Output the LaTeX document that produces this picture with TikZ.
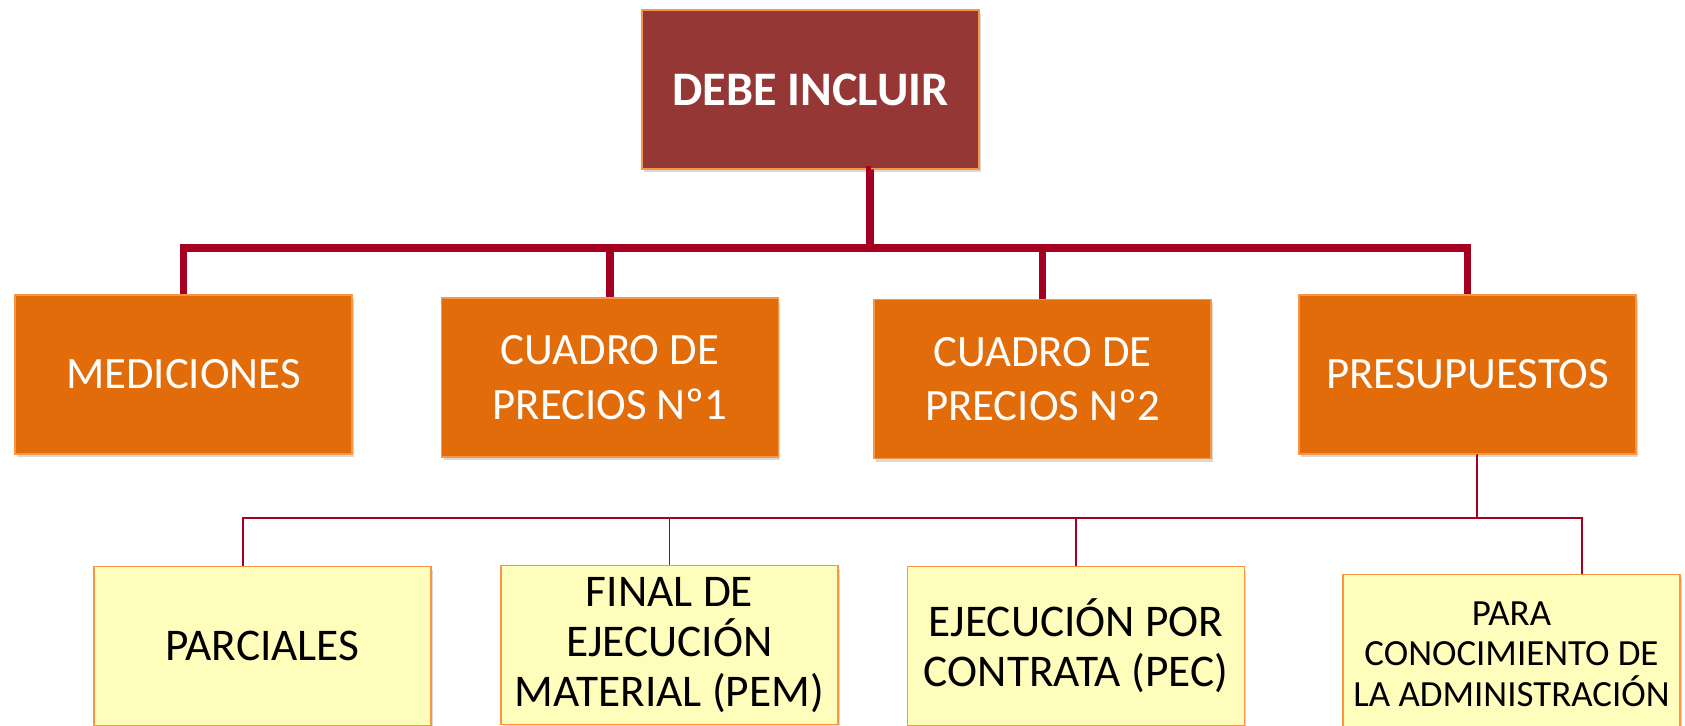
\documentclass[tikz,border=0pt]{standalone}
\usepackage{fontspec}
\setmainfont{Carlito}
\usetikzlibrary{graphs,shadows}
\definecolor{rootred}{HTML}{953735}
\definecolor{boxorange}{HTML}{E36C0A}
\definecolor{rimorange}{HTML}{F79646}
\definecolor{paleyellow}{HTML}{FFFDBB}
\definecolor{linkred}{HTML}{A50021}
\tikzset{
  box/.style={rectangle,draw=rimorange,line width=0.8pt,inner sep=0pt,
    minimum width=6.74cm,minimum height=3.18cm,align=center,
    drop shadow={opacity=0.3,shadow xshift=0.04cm,shadow yshift=-0.07cm}},
  rootbox/.style={box,fill=rootred,text=white,font=\fontsize{27.4}{32}\selectfont\bfseries},
  mainbox/.style={box,fill=boxorange,text=white,font=\fontsize{25.5}{31}\selectfont},
  subbox/.style={box,fill=paleyellow,text=black,font=\fontsize{25.8}{28.5}\selectfont}
}
\begin{document}
\begin{tikzpicture}[x=0.02cm,y=-0.02cm,new set=import nodes]
\useasboundingbox (0,0) rectangle (1685,725);
\clip (0,0) rectangle (1685,725);
\begin{scope}[nodes={set=import nodes}]
\node [rootbox] (top) at (810.5,89.5) {DEBE INCLUIR};
\node [mainbox] (med) at (183.5,374.5) {MEDICIONES};
\node [mainbox] (cp1) at (610,377.5) {CUADRO DE\\PRECIOS Nº1};
\node [mainbox] (cp2) at (1042.5,379) {CUADRO DE\\PRECIOS Nº2};
\node [mainbox] (pres) at (1467.5,374.5) {PRESUPUESTOS};
\node [subbox] (parc) at (262.5,646) {PARCIALES};
\node [subbox] (pem) at (669.5,645) {FINAL DE\\EJECUCIÓN\\MATERIAL (PEM)};
\node [subbox] (pec) at (1076,646) {EJECUCIÓN POR\\CONTRATA (PEC)};
\node [subbox,font=\fontsize{21}{23}\selectfont] (adm) at (1511.5,654) {PARA\\CONOCIMIENTO DE\\LA ADMINISTRACIÓN};
\coordinate [set=import nodes] (ts) at ([xshift=1.2cm]top.south);
\coordinate [set=import nodes] (bar) at (870,248);
\coordinate [set=import nodes] (ps) at ([xshift=0.19cm]pres.south);
\coordinate [set=import nodes] (bar2) at (1477,518);
\coordinate [set=import nodes] (q1) at ([xshift=-0.39cm]parc.north);
\coordinate [set=import nodes] (q4) at ([xshift=1.41cm]adm.north);
\end{scope}
\graph [edges={draw=linkred,line width=4pt,to path={-| (\tikztotarget)}}]
{ (import nodes);
ts -- bar;
bar -- {med, cp1, cp2, pres};
ps -- [line width=1.1pt] bar2;
bar2 -- [line width=1.1pt] {q1, pem, pec, q4};
}; \end{tikzpicture}
\end{document}
